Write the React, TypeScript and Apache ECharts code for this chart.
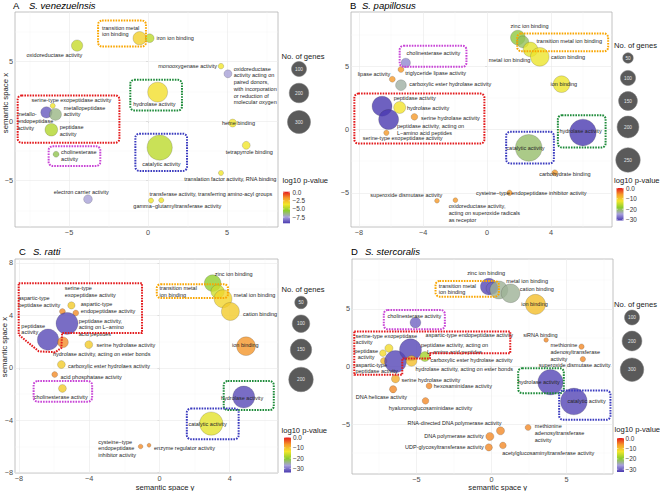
import React, { useEffect, useRef } from 'react';
import * as echarts from 'echarts';

const FONT = '"Liberation Sans", Arial, Helvetica, sans-serif';
const PALETTE = ['#4a3ab0', '#a8a0dc', '#8ccd2d', '#f2e62c', '#f59a2a', '#e41a1c'];
const BOX_COLORS: Record<string, string> = {
  red: '#e31a1c', orange: '#f9a602', green: '#1e8b3a', magenta: '#c844d6', blue: '#3b3bbf',
};

// ---------------- Panel A: S. venezuelnsis ----------------
const namesA = [
  'transition metal\nion binding', 'iron ion binding', 'oxidoreductase activity', 'monooxygenase activity',
  'oxidoreductase\nactivity acting on\npaired donors,\nwith incorporation\nor reduction of\nmolecular oxygen',
  'hydrolase activity', 'serine-type exopeptidase activity', 'metallo-\nendopeptidase\nactivity',
  'metallopeptidase\nactivity', 'peptidase\nactivity', 'cholinesterase\nactivity', 'catalytic activity',
  'heme binding', 'tetrapyrrole binding', 'translation factor activity, RNA binding', 'electron carrier activity',
  'transferase activity, transferring amino-acyl groups', 'gamma\u2212glutamyltransferase activity',
];
const xA = [-0.53, 0.11, -4.49, 4.62, 5.06, 0.61, -6.03, -6.43, -5.86, -6.12, -5.82, 0.74, 5.36, 6.22, 4.62, -3.8, 0.84, 0.19];
const yA = [6.96, 6.96, 6.34, 4.61, 3.97, 2.43, 1.28, 0.73, 0.56, -0.73, -2.79, -2.23, -0.17, -2.04, -4.36, -6.56, -6.65, -6.68];
const logpA = [-3.0, -4.6, -4.4, -3.6, -7.4, -3.4, -3.6, -8.8, -6.5, -4.8, -5.9, -4.6, -3.5, -3.6, -3.6, -7.4, -3.6, -3.6];
const genesA = [71, 18, 44, 2, 13, 211, 1, 44, 53, 62, 3, 375, 13, 13, 1, 18, 1, 1];
const labelA: [number, number, string][] = [
  [-37.7, -7.3, 'left'], [6.7, 0, 'left'], [-22.7, 9, 'center'], [-4, 0, 'right'], [5.7, 11.7, 'left'],
  [-3.3, 11.7, 'center'], [18.7, -6.3, 'center'], [-29.3, 8.7, 'left'], [8.3, -3.3, 'left'], [8.3, 1, 'left'],
  [5, 1.3, 'left'], [1.7, 16, 'center'], [-10.7, 0, 'left'], [3, 7, 'center'], [9.3, 5.7, 'center'],
  [-6.7, -7.3, 'center'], [49.7, -6, 'center'], [26.3, 5.3, 'center'],
];
const boxesA = [[-3.16, 8.44, -0.13, 6.26], [-1.12, 3.46, 2.15, 0.89], [-8.25, 2.15, -1.81, -1.82], [-6.29, -2.12, -3.02, -3.77], [-0.8, -1.06, 2.47, -4.19]];
const boxColorsA = ['orange', 'green', 'red', 'magenta', 'blue'];
const xTicksA = [-5, 0, 5];
const yTicksA = [-5, 0, 5];
const xMinorA = [-7.5, -2.5, 2.5, 7.5];
const yMinorA = [-7.5, -2.5, 2.5, 7.5];
const sizeBreaksA = [100, 200, 300];
const colorBreaksA = [0, -2.5, -5, -7.5];
const colorTicksA = ['0.0', '\u22122.5', '\u22125.0', '\u22127.5'];
const colorRangeA = [-9.4, 0.3];

// ---------------- Panel B: S. papillosus ----------------
const namesB = [
  'zinc ion binding', 'transition metal ion binding', 'metal ion binding', 'cation binding', 'ion binding',
  'cholinesterase activity', 'triglyceride lipase activity', 'lipase activity', 'carboxylic ester hydrolase activity',
  'peptidase activity', 'hydrolase activity', 'peptidase activity, acting on\nL\u2212amino acid peptides',
  'serine hydrolase activity', 'serine-type exopeptidase activity', 'hydrolase activity', 'catalytic activity',
  'carbohydrate binding', 'cysteine\u2212type endopeptidase inhibitor activity', 'superoxide dismutase activity',
  'oxidoreductase activity,\nacting on superoxide radicals\nas receptor',
];
const xB = [1.92, 2.23, 2.71, 3.29, 4.65, -5.08, -5.38, -5.92, -5.38, -6.56, -5.46, -6.15, -4.54, -6.29, 5.98, 2.6, 4.23, 1.4, -3.13, -1.98];
const yB = [7.26, 6.92, 6.32, 5.74, 3.58, 5.26, 4.74, 3.97, 3.5, 1.84, 1.74, 0.79, 1.0, -0.26, -0.24, -1.45, -3.42, -5.0, -5.63, -5.58];
const logpB = [-19, -20, -13, -12.5, -12.5, -26, -6, -6, -22.5, -31, -12, -31, -6, -6, -31, -20.5, -6, -6, -6, -6];
const genesB = [94, 64, 94, 148, 120, 40, 18, 18, 52, 169, 64, 169, 22, 15, 296, 296, 18, 15, 12, 12];
const labelB: [number, number, string][] = [
  [11.7, -11.3, 'center'], [13.7, -0.7, 'left'], [-21, 11, 'center'], [11.3, 0, 'left'], [2.3, 0, 'center'],
  [27.7, -10, 'center'], [4.3, 4, 'left'], [-18.3, -5, 'center'], [8.3, -0.7, 'left'], [32.7, -8.7, 'center'],
  [7.3, 0.3, 'left'], [8.3, 9.8, 'left'], [6.7, 0.7, 'left'], [16.3, 5.7, 'center'], [-2.3, -1.3, 'center'],
  [-3.3, 0, 'center'], [10, 0.7, 'center'], [21.7, 0, 'center'], [-30.7, -5.7, 'center'], [-6.7, 12.7, 'left'],
];
const boxesB = [[1.88, 7.58, 7.56, 6.18], [-5.46, 6.61, -1.29, 4.95], [-8.29, 2.84, -0.17, -1.11], [4.42, 1.13, 7.4, -1.42], [1.19, -0.18, 4.17, -2.68]];
const boxColorsB = ['orange', 'magenta', 'red', 'green', 'blue'];
const xTicksB = [-8, -4, 0, 4];
const yTicksB = [-5, 0, 5];
const xMinorB = [-6, -2, 2, 6];
const yMinorB = [-7.5, -2.5, 2.5, 7.5];
const sizeBreaksB = [50, 100, 150, 200, 250];
const colorBreaksB = [0, -10, -20, -30];
const colorTicksB = ['0.0', '\u221210', '\u221220', '\u221230'];
const colorRangeB = [-30.7, 0.2];

// ---------------- Panel C: S. ratti ----------------
const namesC = [
  'zinc ion binding', 'transition metal\nion binding', 'metal ion binding', 'cation binding', 'ion binding',
  'hydrolase activity', 'catalytic activity', 'cysteine\u2212type\nendopeptidase\ninhibitor activity',
  'enzyme regulator activity', 'aspartic-type\npeptidase activity', 'serine-type\nexopeptidase activity',
  'aspartic-type\nendopeptidase activity', 'peptidase activity,\nacting on L\u2212amino\nacid peptides',
  'peptidase\nactivity', 'hydrolase activity, acting on ester bonds', 'serine hydrolase activity',
  'carboxylic ester hydrolaes activity', 'acid phosphatase activity', 'cholinesterase activity',
];
const xC = [3.03, 3.31, 3.62, 4.04, 4.93, 4.8, 2.95, -1.07, -0.59, -5.52, -5.01, -4.76, -5.26, -6.34, -5.49, -4.02, -5.58, -5.96, -5.52];
const yC = [6.46, 5.82, 5.27, 4.3, 1.65, -2.23, -4.25, -6.0, -5.9, 4.3, 4.76, 4.18, 3.39, 2.15, 1.95, 1.77, 0.25, -0.51, -1.57];
const logpC = [-20, -16, -12, -11, -6.5, -33, -14.5, -6, -6, -6, -11, -6, -33, -33, -6, -11, -11, -6, -11];
const genesC = [90, 57, 106, 106, 115, 160, 180, 6, 4, 10, 16, 10, 160, 150, 36, 19, 19, 10, 19];
const labelC: [number, number, string][] = [
  [21, -9.3, 'center'], [-58, 0, 'left'], [10.7, -4, 'left'], [12.7, 2.3, 'left'], [-0.7, -1, 'center'],
  [-1.7, 0.7, 'center'], [-3.7, 0, 'center'], [-42.3, 1.7, 'left'], [5, 2.3, 'left'], [-44.3, -9.7, 'left'],
  [-6.7, -13.7, 'left'], [5, -5.7, 'left'], [11.7, 4, 'left'], [-26.7, -10.7, 'left'], [-10, 11.7, 'left'],
  [7.7, 0, 'left'], [6.7, 1.7, 'left'], [5.7, 2.3, 'left'], [-1.7, 8.7, 'center'],
];
const boxesC = [[-0.15, 6.38, 3.9, 5.32], [-7.16, -1.01, -3.83, -2.58], [3.66, -1.01, 6.51, -3.22], [1.56, -3.11, 4.51, -5.44]];
const boxColorsC = ['orange', 'magenta', 'green', 'blue'];
const polyC = [[-8.01, 6.45], [-0.99, 6.45], [-0.99, 2.66], [-5.54, 2.66], [-5.58, 1.52], [-5.93, 1.19], [-6.87, 1.26], [-8.01, 2.53]];
const xTicksC = [-8, -4, 0, 4];
const yTicksC = [-8, -4, 0, 4, 8];
const xMinorC = [-6, -2, 2, 6];
const yMinorC = [-6, -2, 2, 6];
const sizeBreaksC = [50, 100, 150, 200];
const colorBreaksC = [0, -10, -20, -30];
const colorTicksC = ['0.0', '\u221210', '\u221220', '\u221230'];
const colorRangeC = [-34, 0.1];

// ---------------- Panel D: S. stercoralis ----------------
const namesD = [
  'zinc ion binding', 'transition metal\nion binding', 'metal ion binding', 'cation binding', 'ion binding',
  'cholinesterase activity', 'siRNA binding', 'methionine\nadenosyltransferase\nactivity',
  'superoxide dismutase activity', 'hydrolase activity', 'catalytic activity',
  'methionine\nadenosyltransferase\nactivity', 'acetylglucosaminyltransferase activity',
  'UDP-glycosyltransferase activity', 'DNA polymerase activity', 'RNA-directed DNA polymerase activity',
  'hyaluronoglucosaminidase activity', 'DNA helicase activity', 'hexosaminidase activity',
  'serine hydrolase activity', 'serine-type exopeptidase\nactivity', 'aspartic-type endopeptidase activity',
  'aspartic-type\npeptidase activity', 'peptidase\nactivity', 'peptidase activity, acting on\nL\u2212amino acid peptides',
  'hydrolase activity, acting on ester bonds', 'carboxylic ester hydrolase activity',
];
const xD = [-0.18, 0.04, 0.49, 1.27, 2.93, -5.07, 3.64, 6.0, 6.09, 3.93, 5.49, 2.44, 0.76, -0.18, -0.11, 0.6, -4.4, -6.56, -4.16, -6.4, -6.84, -7.24, -7.18, -6.4, -5.4, -5.33, -4.44];
const yD = [6.94, 6.79, 6.65, 6.36, 5.4, 3.82, 2.31, 1.73, 0.64, -1.36, -3.03, -5.29, -6.85, -7.02, -6.07, -5.58, -2.98, -1.97, -1.68, -1.07, 1.59, 1.16, 0.49, 0.43, 1.45, 0.49, 0.87];
const logpD = [-32, -30, -23.5, -23.5, -9.5, -30, -5.5, -5.5, -5.5, -32, -32, -5.5, -5.5, -5.5, -5.5, -5.5, -5.5, -5.5, -5.5, -8, -12, -12, -9, -32, -32, -9.5, -18];
const genesD = [131, 55, 158, 174, 205, 40, 1, 3, 3, 357, 403, 5, 8, 11, 16, 16, 8, 11, 5, 16, 16, 8, 8, 257, 257, 40, 32];
const labelD: [number, number, string][] = [
  [-2.7, -13.3, 'center'], [-53.3, 0.7, 'left'], [28.3, -9, 'center'], [9.3, -4, 'left'], [-1, 0, 'center'],
  [-1, -7, 'center'], [-5.7, -5, 'center'], [-31, 5.3, 'left'], [-8.3, 5.7, 'center'], [-11.7, -0.7, 'center'],
  [12.7, 0, 'center'], [6.7, 5.7, 'left'], [45.3, 7.7, 'center'], [-5, -0.7, 'right'], [-6, 0, 'right'],
  [-46, -7.7, 'center'], [5, 6.7, 'center'], [-11.7, 7.3, 'center'], [4.7, 0, 'left'], [6, 1, 'left'],
  [-33.3, -9.3, 'left'], [42.7, -18.3, 'left'], [-28.3, 7, 'left'], [-29.3, -7.7, 'center'], [44, -1.7, 'center'],
  [4, 8, 'left'], [5.7, 3.7, 'left'],
];
const boxesD = [[-3.73, 7.43, 0.49, 6.07], [-7.18, 4.91, -3.11, 3.24], [1.78, -0.14, 4.82, -2.31], [4.51, -2.08, 7.93, -4.62]];
const boxColorsD = ['orange', 'magenta', 'green', 'blue'];
const polyD = [[-9.15, 3.04], [1.25, 3.04], [1.25, 1.16], [-4.1, 1.16], [-4.1, 0.7], [-5.95, 0.7], [-5.95, -0.72], [-9.15, -0.72]];
const xTicksD = [-5, 0, 5];
const yTicksD = [-5, 0, 5];
const xMinorD = [-7.5, -2.5, 2.5, 7.5];
const yMinorD = [-7.5, -2.5, 2.5, 7.5];
const sizeBreaksD = [100, 200, 300];
const colorBreaksD = [0, -10, -20, -30];
const colorTicksD = ['0.0', '\u221210', '\u221220', '\u221230'];
const colorRangeD = [-32.7, 0.2];

const fmtTick = (v: number) => (v < 0 ? '\u2212' + Math.abs(v) : String(v));

const panels = [
  {
    letter: 'A', species: 'S. venezuelnsis', names: namesA, xs: xA, ys: yA, logp: logpA, genes: genesA, labels: labelA,
    size: (n: number) => 4 + 1.1 * Math.sqrt(n), sizeBreaks: sizeBreaksA, colorRange: colorRangeA,
    colorBreaks: colorBreaksA, colorTicks: colorTicksA,
    grid: { left: 15, top: 12, width: 263, height: 215 }, xMin: -8.42, xMax: 8.23, yMin: -8.9, yMax: 9.16,
    xTicks: xTicksA, yTicks: yTicksA, xMinor: xMinorA, yMinor: yMinorA, boxes: boxesA, boxColors: boxColorsA, poly: null as any,
    letterX: 13, speciesX: 29, titleY: 5,
    sizeTitle: [281.5, 56], circleX: 299, circleYs: [69, 93, 122], colorTitle: [282.5, 180.5], bar: [283, 191.7, 7, 31.6], tickX: 292.5,
    yTitle: [5, 103] as any, xTitle: null as any,
  },
  {
    letter: 'B', species: 'S. papillosus', names: namesB, xs: xB, ys: yB, logp: logpB, genes: genesB, labels: labelB,
    size: (n: number) => 1.6 * Math.sqrt(n) - 0.8, sizeBreaks: sizeBreaksB, colorRange: colorRangeB,
    colorBreaks: colorBreaksB, colorTicks: colorTicksB,
    grid: { left: 351, top: 12, width: 261, height: 215 }, xMin: -8.5, xMax: 7.8, yMin: -7.7, yMax: 9.28,
    xTicks: xTicksB, yTicks: yTicksB, xMinor: xMinorB, yMinor: yMinorB, boxes: boxesB, boxColors: boxColorsB, poly: null as any,
    letterX: 350, speciesX: 362, titleY: 5,
    sizeTitle: [614, 45], circleX: 628, circleYs: [58, 78, 101, 127, 160], colorTitle: [614, 180.2], bar: [616.5, 188, 7, 32.5], tickX: 626,
    yTitle: null as any, xTitle: null as any,
  },
  {
    letter: 'C', species: 'S. ratti', names: namesC, xs: xC, ys: yC, logp: logpC, genes: genesC, labels: labelC,
    size: (n: number) => 0.5 + 1.7 * Math.sqrt(n), sizeBreaks: sizeBreaksC, colorRange: colorRangeC,
    colorBreaks: colorBreaksC, colorTicks: colorTicksC,
    grid: { left: 15, top: 259, width: 263, height: 214 }, xMin: -8.22, xMax: 6.75, yMin: -8.02, yMax: 8.3,
    xTicks: xTicksC, yTicks: yTicksC, xMinor: xMinorC, yMinor: yMinorC, boxes: boxesC, boxColors: boxColorsC, poly: polyC,
    letterX: 19, speciesX: 33, titleY: 251.5,
    sizeTitle: [281.5, 289.5], circleX: 301, circleYs: [302.5, 323.7, 349.7, 379.5], colorTitle: [281.5, 430], bar: [284, 437.5, 7, 35], tickX: 293,
    yTitle: [4.5, 347] as any, xTitle: [165, 487.3] as any,
  },
  {
    letter: 'D', species: 'S. stercoralis', names: namesD, xs: xD, ys: yD, logp: logpD, genes: genesD, labels: labelD,
    size: (n: number) => 3.4 + 1.16 * Math.sqrt(n), sizeBreaks: sizeBreaksD, colorRange: colorRangeD,
    colorBreaks: colorBreaksD, colorTicks: colorTicksD,
    grid: { left: 352, top: 259, width: 261, height: 215 }, xMin: -9.3, xMax: 8.1, yMin: -9.33, yMax: 9.34,
    xTicks: xTicksD, yTicks: yTicksD, xMinor: xMinorD, yMinor: yMinorD, boxes: boxesD, boxColors: boxColorsD, poly: polyD,
    letterX: 351, speciesX: 365, titleY: 251.5,
    sizeTitle: [614, 304], circleX: 632, circleYs: [317.5, 341, 369.7], colorTitle: [614.5, 429.5], bar: [617, 438, 7, 34], tickX: 625.5,
    yTitle: null as any, xTitle: [497.7, 487.3] as any,
  },
];

function txt(x: number, y: number, text: string, size: number, extra: any = {}, el: any = {}) {
  return {
    type: 'text', x, y, silent: true, ...el,
    style: { text, fontSize: size, fontFamily: FONT, fill: '#1a1a1a', align: 'left', verticalAlign: 'middle', ...extra },
  };
}

function buildOption() {
  const grid: any[] = [];
  const xAxis: any[] = [];
  const yAxis: any[] = [];
  const series: any[] = [];
  const visualMap: any[] = [];
  const elements: any[] = [];

  panels.forEach((p, i) => {
    grid.push({ ...p.grid, show: true, borderColor: '#b3b3b3', borderWidth: 0.8, backgroundColor: 'transparent' });
    const axisCommon = (ticks: number[]) => ({
      type: 'value', gridIndex: i, axisLine: { show: false }, splitLine: { show: false },
      axisTick: { show: true, customValues: ticks, length: 2, lineStyle: { color: '#b3b3b3', width: 0.7 } },
      axisLabel: { customValues: ticks, formatter: fmtTick, fontSize: 7.3, color: '#4d4d4d', margin: 2, fontFamily: FONT },
    });
    xAxis.push({ ...axisCommon(p.xTicks), min: p.xMin, max: p.xMax });
    yAxis.push({ ...axisCommon(p.yTicks), min: p.yMin, max: p.yMax });

    const data = p.names.map((name, k) => ({
      name,
      value: [p.xs[k], p.ys[k], p.logp[k], p.genes[k]],
      label: { offset: [p.labels[k][0], p.labels[k][1]], align: p.labels[k][2] },
    }));
    const major = '#e9e9e9';
    const minor = '#f4f4f4';
    const ml = [
      ...p.xMinor.map((v) => ({ xAxis: v, lineStyle: { color: minor, width: 0.4, type: 'solid' } })),
      ...p.yMinor.map((v) => ({ yAxis: v, lineStyle: { color: minor, width: 0.4, type: 'solid' } })),
      ...p.xTicks.map((v) => ({ xAxis: v, lineStyle: { color: major, width: 0.6, type: 'solid' } })),
      ...p.yTicks.map((v) => ({ yAxis: v, lineStyle: { color: major, width: 0.6, type: 'solid' } })),
    ];
    series.push({
      type: 'scatter', xAxisIndex: i, yAxisIndex: i, z: 2, data, symbol: 'circle',
      symbolSize: (val: number[]) => p.size(val[3]),
      itemStyle: { opacity: 0.8, borderColor: 'rgba(40,40,40,0.45)', borderWidth: 0.5 },
      label: {
        show: true, position: 'inside', formatter: '{b}', fontSize: 5.5, lineHeight: 6.7, color: '#262626',
        fontFamily: FONT, verticalAlign: 'middle', opacity: 1, textBorderWidth: 0,
      },
      emphasis: { disabled: true },
      markLine: {
        silent: true, z: 1, symbol: ['none', 'none'], label: { show: false }, emphasis: { disabled: true },
        animation: false, data: ml,
      },
    });
    visualMap.push({
      type: 'continuous', show: false, seriesIndex: i, dimension: 2,
      min: p.colorRange[0], max: p.colorRange[1], inRange: { color: PALETTE },
    });

    // titles
    elements.push(txt(p.letterX, p.titleY, p.letter, 9.5, { fill: '#000' }));
    elements.push(txt(p.speciesX, p.titleY, p.species, 9.5, { fill: '#000', fontStyle: 'italic' }));
    if (p.yTitle) elements.push(txt(p.yTitle[0], p.yTitle[1], 'semantic space x', 7.8, { align: 'center' }, { rotation: Math.PI / 2 }));
    if (p.xTitle) elements.push(txt(p.xTitle[0], p.xTitle[1], 'semantic space y', 7.6, { align: 'center' }));

    // size legend
    elements.push(txt(p.sizeTitle[0], p.sizeTitle[1], 'No. of genes', 7.6));
    p.sizeBreaks.forEach((b, k) => {
      const r = p.size(b) / 2;
      elements.push({
        type: 'circle', silent: true, shape: { cx: p.circleX, cy: p.circleYs[k], r },
        style: { fill: '#5a5a5a', stroke: '#7a7a7a', lineWidth: 0.5 },
      });
      elements.push(txt(p.circleX, p.circleYs[k], String(b), 4.7, { fill: '#e6e6e6', align: 'center' }));
    });

    // colour legend
    elements.push(txt(p.colorTitle[0], p.colorTitle[1], 'log10 p-value', 7.6));
    const [bx, by, bw, bh] = p.bar;
    const stops = [...PALETTE].reverse().map((c, k) => ({ offset: k / (PALETTE.length - 1), color: c }));
    elements.push({
      type: 'rect', silent: true, shape: { x: bx, y: by, width: bw, height: bh },
      style: { fill: new echarts.graphic.LinearGradient(0, 0, 0, 1, stops) },
    });
    const [cmin, cmax] = p.colorRange;
    p.colorBreaks.forEach((v, k) => {
      const ty = by + ((cmax - v) / (cmax - cmin)) * bh;
      elements.push({ type: 'line', silent: true, shape: { x1: bx, y1: ty, x2: bx + 1.4, y2: ty }, style: { stroke: '#fff', lineWidth: 0.5 } });
      elements.push({ type: 'line', silent: true, shape: { x1: bx + bw - 1.4, y1: ty, x2: bx + bw, y2: ty }, style: { stroke: '#fff', lineWidth: 0.5 } });
      elements.push(txt(p.tickX, ty, p.colorTicks[k], 6.4, { fill: '#333' }));
    });
  });

  // dotted group boxes
  panels.forEach((p, i) => {
    series.push({
      type: 'custom', xAxisIndex: i, yAxisIndex: i, z: 3, silent: true, clip: true,
      data: p.boxes.map((b) => [b[0], b[1], b[2], b[3]]),
      encode: { x: [0, 2], y: [1, 3] },
      renderItem: (params: any, api: any) => {
        const a = api.coord([api.value(0), api.value(1)]);
        const b = api.coord([api.value(2), api.value(3)]);
        const col = BOX_COLORS[p.boxColors[params.dataIndex]];
        return {
          type: 'rect',
          shape: { x: Math.min(a[0], b[0]), y: Math.min(a[1], b[1]), width: Math.abs(b[0] - a[0]), height: Math.abs(b[1] - a[1]), r: 4 },
          style: { fill: 'none', stroke: col, lineWidth: 2, lineDash: [1.6, 1.1] },
        };
      },
    });
    if (p.poly) {
      const pts = p.poly as number[][];
      series.push({
        type: 'custom', xAxisIndex: i, yAxisIndex: i, z: 3, silent: true, clip: true,
        data: [[pts[0][0], pts[0][1]]],
        renderItem: (_params: any, api: any) => ({
          type: 'polygon',
          shape: { points: pts.map((q) => api.coord(q)) },
          style: { fill: 'none', stroke: BOX_COLORS.red, lineWidth: 2, lineDash: [1.6, 1.1], lineJoin: 'round' },
        }),
      });
    }
  });

  return {
    animation: false,
    backgroundColor: '#ffffff',
    textStyle: { fontFamily: FONT },
    grid, xAxis, yAxis, series, visualMap,
    graphic: { elements },
  };
}

export default function App() {
  const ref = useRef<HTMLDivElement>(null);
  useEffect(() => {
    if (!ref.current) return;
    const chart = echarts.init(ref.current, null, { renderer: 'svg' });
    chart.setOption(buildOption() as any);
    return () => chart.dispose();
  }, []);
  return <div ref={ref} style={{ position: 'fixed', left: 0, top: 0, width: 660, height: 491, background: '#fff' }} />;
}
